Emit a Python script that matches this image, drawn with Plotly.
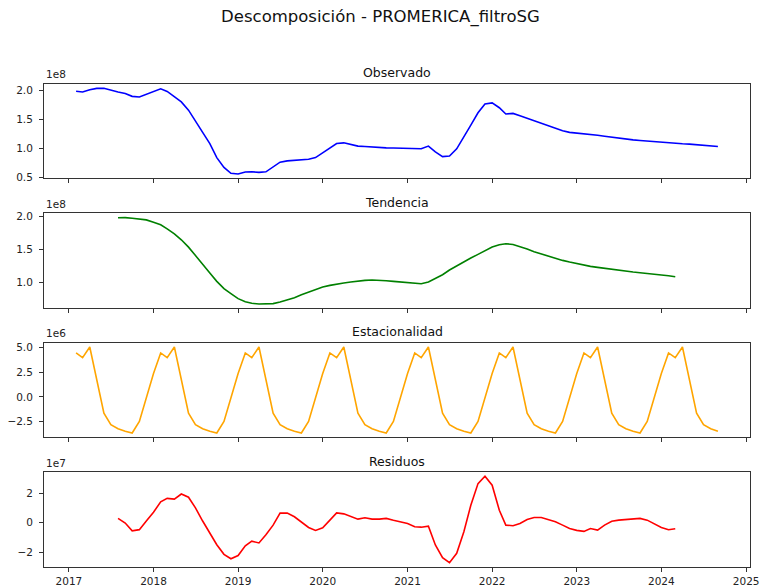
import pandas as pd
import plotly.graph_objects as go

# ---------------- DATA ----------------
fechas = pd.date_range("2017-02-01", periods=92, freq="MS")

# Observado (unidades de 1e8)
observado_1e8 = [
    1.978, 1.966, 2.005, 2.028, 2.030, 2.005, 1.966, 1.940, 1.892, 1.880, 1.926, 1.976,
    2.020, 1.976, 1.892, 1.797, 1.656, 1.460, 1.274, 1.084, 0.843, 0.675, 0.574, 0.562,
    0.596, 0.600, 0.590, 0.600, 0.680, 0.765, 0.787, 0.800, 0.800, 0.815, 0.843, 0.927,
    1.020, 1.084, 1.096, 1.067, 1.040, 1.034, 1.022, 1.017, 1.010, 1.008, 1.006, 1.006,
    1.006, 0.994, 1.040, 0.940, 0.860, 0.870, 0.994, 1.190, 1.400, 1.610, 1.760, 1.780,
    1.697, 1.590, 1.600, 1.560, 1.517, 1.478, 1.433, 1.388, 1.343, 1.303, 1.275, 1.264,
    1.258, 1.240, 1.225, 1.208, 1.190, 1.174, 1.157, 1.146, 1.135, 1.124, 1.112, 1.100,
    1.096, 1.084, 1.079, 1.073, 1.060, 1.050, 1.045, 1.034,
]

# Tendencia (unidades de 1e8), 2017-08 .. 2024-03
tendencia_1e8 = [
    1.975, 1.978, 1.969, 1.960, 1.944, 1.909, 1.870, 1.810, 1.735, 1.645,
    1.534, 1.410, 1.270, 1.144, 1.020, 0.910, 0.835, 0.760, 0.715, 0.690,
    0.680, 0.680, 0.685, 0.710, 0.740, 0.775, 0.820, 0.860, 0.900, 0.935,
    0.960, 0.980, 0.995, 1.010, 1.025, 1.035, 1.040, 1.040, 1.030, 1.020,
    1.010, 1.000, 0.985, 0.985, 1.010, 1.060, 1.120, 1.190, 1.255, 1.315,
    1.370, 1.425, 1.480, 1.535, 1.570, 1.585, 1.575, 1.545, 1.505, 1.465,
    1.430, 1.395, 1.365, 1.335, 1.310, 1.285, 1.265, 1.245, 1.230, 1.215,
    1.200, 1.185, 1.170, 1.160, 1.150, 1.135, 1.125, 1.115, 1.105, 1.090,
]

# Estacionalidad (unidades de 1e6)
estacionalidad_1e6 = [
    4.44, 3.97, 5.04, 1.70, -1.63, -2.80, -3.20, -3.46, -3.63, -2.46, -0.13, 2.37,
    4.44, 3.97, 5.04, 1.70, -1.63, -2.80, -3.20, -3.46, -3.63, -2.46, -0.13, 2.37,
    4.44, 3.97, 5.04, 1.70, -1.63, -2.80, -3.20, -3.46, -3.63, -2.46, -0.13, 2.37,
    4.44, 3.97, 5.04, 1.70, -1.63, -2.80, -3.20, -3.46, -3.63, -2.46, -0.13, 2.37,
    4.44, 3.97, 5.04, 1.70, -1.63, -2.80, -3.20, -3.46, -3.63, -2.46, -0.13, 2.37,
    4.44, 3.97, 5.04, 1.70, -1.63, -2.80, -3.20, -3.46, -3.63, -2.46, -0.13, 2.37,
    4.44, 3.97, 5.04, 1.70, -1.63, -2.80, -3.20, -3.46, -3.63, -2.46, -0.13, 2.37,
    4.44, 3.97, 5.04, 1.70, -1.63, -2.80, -3.20, -3.46,
]

# Residuos (unidades de 1e7), 2017-08 .. 2024-03
residuos_1e7 = [
    0.30, -0.02, -0.55, -0.47, 0.12, 0.72, 1.44, 1.67, 1.62, 1.97,
    1.75, 1.02, 0.12, -0.74, -1.50, -2.16, -2.46, -2.24, -1.58, -1.26,
    -1.38, -0.82, -0.16, 0.66, 0.66, 0.41, 0.02, -0.32, -0.52, -0.34,
    0.18, 0.68, 0.61, 0.45, 0.25, 0.34, 0.25, 0.25, 0.30, 0.17,
    0.07, -0.05, -0.27, -0.30, -0.23, -1.52, -2.39, -2.73, -2.09, -0.61,
    1.20, 2.68, 3.18, 2.57, 0.86, -0.16, -0.20, -0.05, 0.23, 0.36,
    0.36, 0.23, 0.07, -0.16, -0.39, -0.52, -0.59, -0.39, -0.50, -0.16,
    0.11, 0.18, 0.23, 0.25, 0.30, 0.18, -0.05, -0.32, -0.48, -0.41,
]

fechas_tr = fechas[6:86]

titulos = ["Observado", "Tendencia", "Estacionalidad", "Residuos"]
exponentes = ["1e8", "1e8", "1e6", "1e7"]
colores = ["blue", "green", "orange", "red"]
yticks = [[0.5, 1.0, 1.5, 2.0], [1.0, 1.5, 2.0], [-2.5, 0.0, 2.5, 5.0], [-2, 0, 2]]
yfmt = [".1f", ".1f", ".1f", "d"]
anios = list(range(2017, 2026))

# ---------------- LAYOUT ----------------
W, H = 761, 588
ML, MR, MT, MB = 44, 11, 30, 21
PH = H - MT - MB


def py(px):
    return (H - MB - px) / PH


# frame top / bottom in pixels
frames = [(84, 178.3), (213.3, 308.3), (342.7, 437.3), (472, 567)]

series = [
    (fechas, observado_1e8),
    (fechas_tr, tendencia_1e8),
    (fechas, estacionalidad_1e6),
    (fechas_tr, residuos_1e7),
]

fig = go.Figure()
FONT = "DejaVu Sans, Arial, sans-serif"
AXC = "#333333"

# x range with matplotlib-like 5% margins
x0, x1 = fechas[0], fechas[-1]
span = x1 - x0
xr = [x0 - span * 0.05, x1 + span * 0.05]

annotations = []
for i, ((xs, ys), col) in enumerate(zip(series, colores)):
    n = i + 1
    xa = "x" if n == 1 else f"x{n}"
    ya = "y" if n == 1 else f"y{n}"
    fig.add_trace(go.Scatter(x=list(xs), y=ys, mode="lines",
                             line=dict(color=col, width=1.6),
                             xaxis=xa, yaxis=ya, showlegend=False,
                             hoverinfo="skip"))
    lo, hi = min(ys), max(ys)
    pad = (hi - lo) * 0.05
    top, bot = frames[i]
    fig.layout[f"xaxis{'' if n == 1 else n}"] = dict(
        domain=[0, 1], anchor=ya, type="date", range=xr, automargin=False,
        tickvals=[f"{a}-01-01" for a in anios], ticktext=[str(a) for a in anios],
        showticklabels=(n == 4), ticks="outside", ticklen=4, tickwidth=1,
        tickcolor=AXC, showline=True, linecolor=AXC, linewidth=1, mirror=True,
        showgrid=False, zeroline=False, ticklabelstandoff=0,
        tickfont=dict(family=FONT, size=10.5, color="#222"),
    )
    fig.layout[f"yaxis{'' if n == 1 else n}"] = dict(
        domain=[py(bot), py(top)], anchor=xa, range=[lo - pad, hi + pad],
        tickvals=yticks[i], tickformat=yfmt[i], automargin=False,
        ticks="outside", ticklen=4, tickwidth=1, tickcolor=AXC,
        showline=True, linecolor=AXC, linewidth=1, mirror=True,
        showgrid=False, zeroline=False, ticklabelstandoff=4,
        tickfont=dict(family=FONT, size=10.5, color="#222"),
    )
    annotations.append(dict(text=titulos[i], xref="paper", yref="paper",
                            x=0.5, y=py(top - 11), xanchor="center", yanchor="middle",
                            showarrow=False, font=dict(family=FONT, size=12.5, color="#111")))
    annotations.append(dict(text=exponentes[i], xref="paper", yref="paper",
                            x=0, y=py(top - 1.5), xanchor="left", yanchor="bottom",
                            showarrow=False, font=dict(family=FONT, size=10.5, color="#222")))

fig.update_layout(
    width=W, height=H,
    margin=dict(l=ML, r=MR, t=MT, b=MB, autoexpand=False),
    paper_bgcolor="white", plot_bgcolor="white",
    title=dict(text="Descomposición - PROMERICA_filtroSG", x=0.5, xanchor="center",
               y=1 - 16 / H, yanchor="middle",
               font=dict(family=FONT, size=16.5, color="#111")),
    annotations=annotations,
    showlegend=False,
)

fig.write_html("out.html")
